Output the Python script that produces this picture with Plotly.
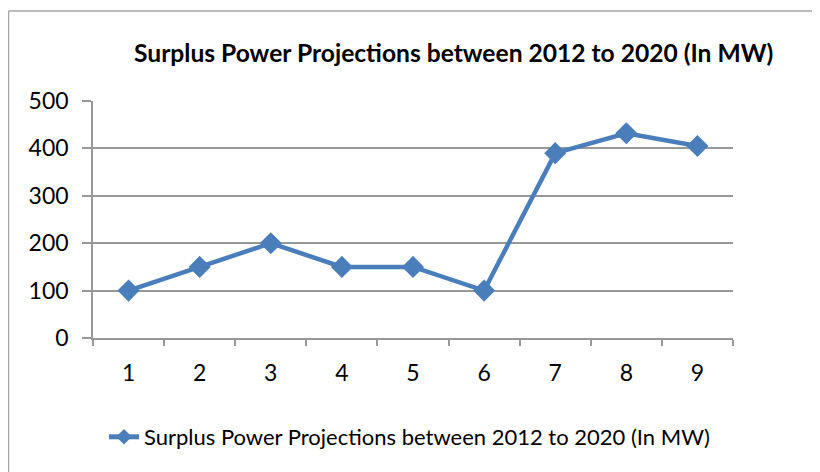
import plotly.graph_objects as go

categories = ["1", "2", "3", "4", "5", "6", "7", "8", "9"]
values = [100, 150, 200, 150, 150, 100, 390, 432, 405]
series_name = "Surplus Power Projections between 2012 to 2020 (In MW)"
title_text = "Surplus Power Projections between 2012 to 2020 (In MW)"
y_ticks = [0, 100, 200, 300, 400, 500]

OFF = 8  # page body margin
W, H = 820 - OFF, 472 - OFF
L, T = 93 - OFF, 101 - OFF
pw, ph = 640, 237
R, B = W - L - pw, H - T - ph

def px_x(p):
    return (p - OFF - L) / pw

def px_y(p):
    return (H - B - (p - OFF)) / ph

FONT = "Lato"
BLUE = "#4a7ebb"
GRID = "#989898"

fig = go.Figure()
fig.add_trace(go.Scatter(
    x=categories, y=values, name=series_name, mode="lines+markers",
    line=dict(color=BLUE, width=4.5),
    marker=dict(symbol="diamond", size=17, color=BLUE),
))

fig.update_layout(
    width=W, height=H,
    margin=dict(l=L, r=R, t=T, b=B, autoexpand=False),
    paper_bgcolor="white", plot_bgcolor="white",
    font=dict(family=FONT, size=23, color="black"),
    showlegend=True,
    legend=dict(orientation="h", x=px_x(104), y=px_y(437), xanchor="left", yanchor="middle",
                itemsizing="constant",
                font=dict(family=FONT, size=22, color="black"), bgcolor="rgba(0,0,0,0)"),
    xaxis=dict(type="category", range=[-0.5, 8.5], showgrid=False, showline=True,
               linecolor=GRID, linewidth=1.5, ticks="outside", ticklen=6, tickcolor=GRID,
               tickwidth=1.5, tickson="boundaries", tickfont=dict(size=23), zeroline=False,
               ticklabelstandoff=14, fixedrange=True),
    yaxis=dict(range=[0, 500], tickvals=y_ticks, showgrid=True, gridcolor=GRID, gridwidth=1.5,
               showline=True, linecolor=GRID, linewidth=1.5, ticks="outside", ticklen=9,
               tickcolor=GRID, tickwidth=1.5, tickfont=dict(size=23), zeroline=False,
               ticklabelstandoff=9, fixedrange=True),
)

fig.add_annotation(text="<b>" + title_text + "</b>", xref="paper", yref="paper",
                   x=px_x(453), y=px_y(52), xanchor="center", yanchor="middle",
                   showarrow=False, font=dict(family=FONT, size=24.6, color="black"))

# chart border (left and top visible)
fig.add_shape(type="line", xref="paper", yref="paper", x0=px_x(8.5), x1=px_x(8.5), y0=px_y(11), y1=px_y(480),
              line=dict(color="#a6a6a6", width=1.5))
fig.add_shape(type="line", xref="paper", yref="paper", x0=px_x(8.5), x1=px_x(830), y0=px_y(11), y1=px_y(11),
              line=dict(color="#a6a6a6", width=1.5))

fig.write_html("out.html")
